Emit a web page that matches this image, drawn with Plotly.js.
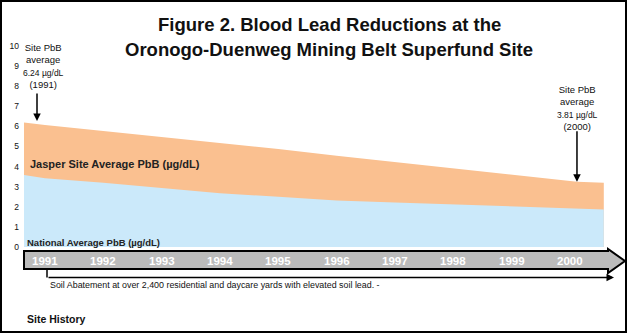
<!DOCTYPE html>
<html><head><meta charset="utf-8">
<script src="https://cdn.plot.ly/plotly-3.0.1.min.js"></script>
<style>html,body{margin:0;padding:0;background:#fff}#chart{width:627px;height:333px}</style>
</head><body><div id="chart"></div>
<script>
// ---- data ----
const xPts = [1990.64, 1991, 1992, 1993, 1994, 1995, 1996, 1997, 1998, 1999, 2000, 2000.12, 2000.58];
const sitePbB = [6.2, 6.07, 5.77, 5.47, 5.17, 4.88, 4.54, 4.23, 3.91, 3.6, 3.28, 3.25, 3.2];
const nationalPbB = [3.58, 3.42, 3.2, 2.93, 2.67, 2.5, 2.31, 2.21, 2.12, 2.02, 1.93, 1.91, 1.87];
const yearLabels = ['1991','1992','1993','1994','1995','1996','1997','1998','1999','2000'];
const yearPos = [1991,1992,1993,1994,1995,1996,1997,1998,1999,2000];
const yTicks = [0,1,2,3,4,5,6,7,8,9,10];
const titleLines = ['Figure 2. Blood Lead Reductions at the', 'Oronogo-Duenweg Mining Belt Superfund Site'];
const siteStart = 'Site PbB<br>average<br><span style="font-size:8.5px">6.24 µg/dL</span><br>(1991)';
const siteEnd = 'Site PbB<br>average<br><span style="font-size:8.5px">3.81 µg/dL</span><br>(2000)';

const W = 627, H = 333, L = 24;
const px = x => (x - L) / (W - L);
const py = y => 1 - y / H;
const F = 'Liberation Sans, Arial, sans-serif';

const traces = [
  {x: xPts, y: sitePbB, type: 'scatter', mode: 'lines', fill: 'tozeroy',
   fillcolor: '#FAC090', line: {width: 0, color: '#FAC090'}, hoverinfo: 'skip', showlegend: false},
  {x: xPts, y: nationalPbB, type: 'scatter', mode: 'lines', fill: 'tozeroy',
   fillcolor: '#CBE9FA', line: {width: 0, color: '#CBE9FA'}, hoverinfo: 'skip', showlegend: false}
];

const bandPath = `M${px(24)},${py(251)} L${px(608)},${py(251)} L${px(608)},${py(249)} L${px(625)},${py(261)} L${px(608)},${py(273)} L${px(608)},${py(269)} L${px(24)},${py(269)} Z`;

const shapes = [
  {type:'rect', xref:'paper', yref:'paper', x0:px(1), x1:px(626), y0:py(1), y1:py(332),
   line:{color:'#000', width:2}, fillcolor:'rgba(0,0,0,0)'},
  {type:'path', xref:'paper', yref:'paper', path: bandPath,
   fillcolor:'#BBBBBB', line:{color:'#000', width:2}},
  {type:'line', xref:'paper', yref:'paper', x0:px(47), x1:px(47), y0:py(269), y1:py(277.5),
   line:{color:'#000', width:1.5}}
];

const annotations = [];
titleLines.forEach((t, i) => annotations.push({
  x: px(329), y: py(25 + 25*i), xref:'paper', yref:'paper', text: '<b>' + t + '</b>', showarrow:false,
  xanchor:'center', yanchor:'middle', font:{family:F, size:18.5, color:'#111'}
}));
yearLabels.forEach((t, i) => annotations.push({
  x: yearPos[i], xref:'x', y: py(261), yref:'paper', text: '<b>' + t + '</b>', showarrow:false,
  font:{family:F, size:11.5, color:'#FFFFFF'}, xanchor:'center', yanchor:'middle'
}));
annotations.push(
  {x: px(614), y: py(277.5), xref:'paper', yref:'paper', ax: 47-614, ay: 0, text:'', showarrow:true,
   arrowhead:2, arrowsize:1, arrowwidth:1.5, arrowcolor:'#000'},
  {x: px(48), y: py(285), xref:'paper', yref:'paper', text:'Soil Abatement at over 2,400 residential and daycare yards with elevated soil lead. -',
   showarrow:false, xanchor:'left', yanchor:'middle', font:{family:F, size:8.9, color:'#111'}},
  {x: px(25), y: py(319), xref:'paper', yref:'paper', text:'<b>Site History</b>',
   showarrow:false, xanchor:'left', yanchor:'middle', font:{family:F, size:10.5, color:'#111'}},
  {x: px(28), y: py(164), xref:'paper', yref:'paper', text:'<b>Jasper Site Average PbB (µg/dL)</b>',
   showarrow:false, xanchor:'left', yanchor:'middle', font:{family:F, size:11, color:'#222'}},
  {x: px(25), y: py(242), xref:'paper', yref:'paper', text:'<b>National Average PbB (µg/dL)</b>',
   showarrow:false, xanchor:'left', yanchor:'middle', font:{family:F, size:9.5, color:'#222'}},
  {x: px(43), y: py(66), xref:'paper', yref:'paper', text: siteStart,
   showarrow:false, xanchor:'center', yanchor:'middle', align:'center', font:{family:F, size:9.5, color:'#111'}},
  {x: px(577), y: py(108), xref:'paper', yref:'paper', text: siteEnd,
   showarrow:false, xanchor:'center', yanchor:'middle', align:'center', font:{family:F, size:9.5, color:'#111'}},
  {x: px(37), y: py(121), xref:'paper', yref:'paper', ax:0, ay:-29, text:'', showarrow:true,
   arrowhead:2, arrowsize:1, arrowwidth:1.5, arrowcolor:'#000'},
  {x: xPts[11], y: sitePbB[11], xref:'x', yref:'y', ax:0, ay:-52, text:'', showarrow:true,
   arrowhead:2, arrowsize:1, arrowwidth:1.5, arrowcolor:'#000'}
);

const layout = {
  width: W, height: H,
  margin: {l: L, r: 0, t: 0, b: 0},
  paper_bgcolor: '#fff', plot_bgcolor: 'rgba(0,0,0,0)',
  showlegend: false,
  xaxis: {range: [1990.64, 1990.64 + 603/58.33], showgrid:false, zeroline:false, showline:false,
    showticklabels:false, ticks:'', fixedrange:true},
  yaxis: {range: [-86/20.1, 247/20.1], tickvals: yTicks, ticktext: yTicks.map(String),
    showgrid:false, zeroline:false, showline:false, ticks:'',
    tickfont: {family: F, size: 8.5, color: '#111'}, ticklabelstandoff: 4, fixedrange:true},
  shapes: shapes,
  annotations: annotations
};

Plotly.newPlot('chart', traces, layout, {displayModeBar:false, staticPlot:true});
</script></body></html>
